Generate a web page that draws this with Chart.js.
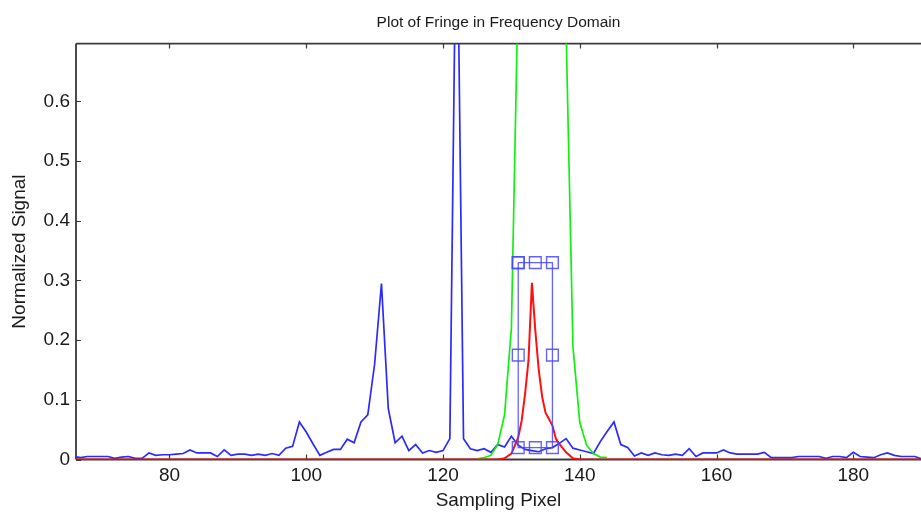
<!DOCTYPE html>
<html>
<head>
<meta charset="utf-8">
<script src="https://cdn.jsdelivr.net/npm/chart.js@4.4.1/dist/chart.umd.min.js"></script>
<style>
  html, body { margin: 0; padding: 0; background: #fff; }
  #wrap { width: 921px; height: 512px; }
</style>
</head>
<body>
<div id="wrap"><canvas id="fringeChart" width="921" height="512"></canvas></div>
<script>
// sampling pixels 66..190, FFT magnitude of the fringe (normalized)
const firstPixel = 66;
const spectrum = [
  0.005, 0.003, 0.005, 0.005, 0.005, 0.005, 0.002, 0.004, 0.005, 0.002,
  0.002, 0.011, 0.007, 0.008, 0.008, 0.009, 0.010, 0.016, 0.011, 0.011,
  0.011, 0.005, 0.016, 0.007, 0.009, 0.009, 0.007, 0.009, 0.007, 0.010,
  0.007, 0.019, 0.022, 0.063, 0.046, 0.026, 0.007, 0.012, 0.017, 0.017,
  0.034, 0.028, 0.063, 0.075, 0.160, 0.295, 0.085, 0.028, 0.039, 0.015,
  0.025, 0.011, 0.015, 0.012, 0.015, 0.035, 1.000, 0.035, 0.018, 0.015,
  0.018, 0.012, 0.025, 0.021, 0.039, 0.024, 0.017, 0.015, 0.013, 0.018,
  0.020, 0.027, 0.035, 0.019, 0.016, 0.013, 0.010, 0.030, 0.047, 0.063,
  0.025, 0.020, 0.006, 0.011, 0.007, 0.011, 0.008, 0.007, 0.009, 0.007,
  0.018, 0.005, 0.011, 0.011, 0.011, 0.016, 0.011, 0.009, 0.009, 0.009,
  0.009, 0.012, 0.003, 0.003, 0.003, 0.003, 0.005, 0.005, 0.005, 0.005,
  0.002, 0.005, 0.005, 0.003, 0.012, 0.005, 0.004, 0.003, 0.008, 0.011,
  0.007, 0.005, 0.005, 0.005, 0.001
];

// filter window (green)
const windowX = [125, 126, 127, 128, 129, 130, 131, 132, 133, 134,
                 135, 136, 137, 138, 139, 140, 141, 142, 143, 144];
const windowY = [0.001, 0.003, 0.007, 0.025, 0.075, 0.22, 0.80, 1.6, 2.3, 2.6,
                 2.4, 1.8, 1.2, 0.72, 0.19, 0.062, 0.024, 0.010, 0.004, 0.003];

// filtered fringe peak (red)
const filteredX = [66, 128, 129, 130, 131, 131.5, 132, 132.5, 133, 133.5, 134,
                   134.5, 135, 135.5, 136, 136.5, 137, 138, 139, 140, 190];
const filteredY = [0, 0, 0.002, 0.010, 0.037, 0.065, 0.110, 0.166, 0.296, 0.216, 0.150,
                   0.105, 0.078, 0.068, 0.057, 0.035, 0.026, 0.012, 0.002, 0, 0];

// selection box around the peak
const boxX = [131, 133.5, 136, 136, 136, 133.5, 131, 131, 131];
const boxY = [0.33, 0.33, 0.33, 0.175, 0.02, 0.02, 0.02, 0.175, 0.33];

const xTicks = [80, 100, 120, 140, 160, 180];
const yTicks = [0, 0.1, 0.2, 0.3, 0.4, 0.5, 0.6];
const xRange = [66.33, 189.9];
const yRange = [0, 0.697];

function toPoints(xs, ys) {
  return ys.map((y, i) => ({ x: xs[i], y: y }));
}

const spectrumPts = spectrum.map((v, i) => ({ x: firstPixel + i, y: v }));

const fontFamily = 'Arial, "Liberation Sans", sans-serif';
const axisColor = '#3a3a3a';

// box frame with inward tick marks, like the old plotting windows
const frameTicks = {
  id: 'frameTicks',
  beforeDatasetsDraw(chart) {
    const { ctx, chartArea: a, scales: { x, y } } = chart;
    const len = 5;
    ctx.save();
    ctx.strokeStyle = axisColor;
    ctx.lineWidth = 1.8;
    ctx.beginPath();
    ctx.moveTo(a.left, a.top); ctx.lineTo(a.right + 2, a.top);
    ctx.moveTo(a.left, a.top); ctx.lineTo(a.left, a.bottom);
    ctx.moveTo(a.left, a.bottom); ctx.lineTo(a.right + 2, a.bottom);
    ctx.stroke();
    ctx.lineWidth = 1.2;
    ctx.beginPath();
    xTicks.forEach(v => {
      const px = Math.round(x.getPixelForValue(v)) + 0.5;
      ctx.moveTo(px, a.bottom); ctx.lineTo(px, a.bottom - len);
      ctx.moveTo(px, a.top); ctx.lineTo(px, a.top + len);
    });
    yTicks.forEach(v => {
      const py = Math.round(y.getPixelForValue(v)) + 0.5;
      ctx.moveTo(a.left, py); ctx.lineTo(a.left + len, py);
    });
    ctx.stroke();
    ctx.restore();
  }
};

const ctx = document.getElementById('fringeChart').getContext('2d');

const fringeChart = new Chart(ctx, {
  type: 'scatter',
  data: {
    datasets: [
      {
        label: 'Selection',
        data: toPoints(boxX, boxY),
        showLine: true,
        borderColor: 'rgba(70,70,255,0.85)',
        borderWidth: 1.3,
        pointStyle: 'rect',
        pointRadius: 8.3,
        pointBorderColor: 'rgba(70,70,255,0.85)',
        pointBackgroundColor: 'rgba(0,0,0,0)',
        pointBorderWidth: 1.4,
        order: 0
      },
      {
        label: 'Filtered',
        data: toPoints(filteredX, filteredY),
        showLine: true,
        borderColor: '#ff1010',
        borderWidth: 2,
        pointRadius: 0,
        order: 1
      },
      {
        label: 'Window',
        data: toPoints(windowX, windowY),
        showLine: true,
        borderColor: '#10f010',
        borderWidth: 1.7,
        pointRadius: 0,
        order: 2
      },
      {
        label: 'Spectrum',
        data: spectrumPts,
        showLine: true,
        borderColor: '#2a2aff',
        borderWidth: 1.7,
        pointRadius: 0,
        order: 3
      }
    ]
  },
  options: {
    responsive: false,
    animation: false,
    events: [],
    layout: { padding: 0, autoPadding: false },
    elements: { line: { tension: 0 } },
    plugins: {
      legend: { display: false },
      tooltip: { enabled: false },
      title: {
        display: true,
        fullSize: false,
        text: 'Plot of Fringe in Frequency Domain',
        color: '#1a1a1a',
        font: { family: fontFamily, size: 15.5, weight: 'normal', lineHeight: 1.2 },
        padding: { top: 13, bottom: 12 }
      }
    },
    scales: {
      x: {
        type: 'linear',
        min: xRange[0],
        max: xRange[1],
        afterBuildTicks: s => { s.ticks = xTicks.map(v => ({ value: v })); },
        afterFit: s => {
          s.height = 52.5;
          s.paddingLeft = 0;
          s.paddingRight = 0;
        },
        grid: { display: false, drawTicks: false },
        border: { display: false },
        ticks: {
          padding: 5,
          maxRotation: 0,
          color: '#1a1a1a',
          font: { family: fontFamily, size: 19 },
          callback: v => String(v)
        },
        title: {
          display: true,
          text: 'Sampling Pixel',
          color: '#1a1a1a',
          font: { family: fontFamily, size: 19 },
          padding: { top: 0, bottom: 0 }
        }
      },
      y: {
        type: 'linear',
        min: yRange[0],
        max: yRange[1],
        afterBuildTicks: s => { s.ticks = yTicks.map(v => ({ value: v })); },
        afterFit: s => {
          s.width = 76;
          s.paddingTop = 0;
          s.paddingBottom = 0;
        },
        grid: { display: false, drawTicks: false },
        border: { display: false },
        ticks: {
          padding: 6,
          color: '#1a1a1a',
          font: { family: fontFamily, size: 19 },
          callback: v => (v === 0 ? '0' : v.toFixed(1))
        },
        title: {
          display: true,
          text: 'Normalized Signal',
          color: '#1a1a1a',
          font: { family: fontFamily, size: 19 },
          padding: { top: 8, bottom: 0 }
        }
      }
    }
  },
  plugins: [frameTicks]
});
</script>
</body>
</html>
